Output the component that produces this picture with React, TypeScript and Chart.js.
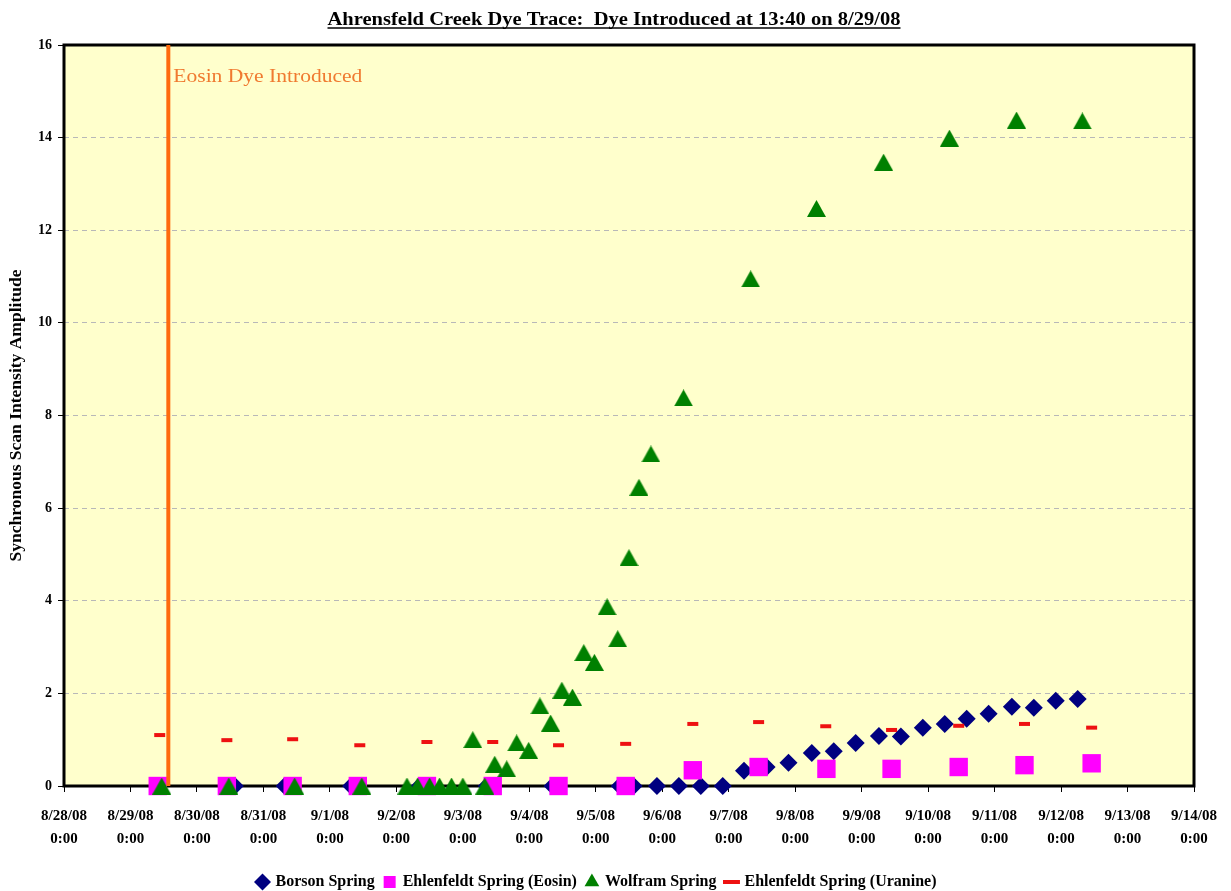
import React, { useEffect, useRef } from "react";
import { Chart, registerables } from "chart.js";

Chart.register(...registerables);

// x values are days since 8/28/08 0:00
const xTickDates = [
  "8/28/08", "8/29/08", "8/30/08", "8/31/08", "9/1/08", "9/2/08", "9/3/08", "9/4/08", "9/5/08",
  "9/6/08", "9/7/08", "9/8/08", "9/9/08", "9/10/08", "9/11/08", "9/12/08", "9/13/08", "9/14/08",
];
const xTickTime = "0:00";
const yTicks = [0, 2, 4, 6, 8, 10, 12, 14, 16];

const dyeIntroducedDay = 1 + (13 + 40 / 60) / 24; // 8/29/08 13:40
const dyeLabel = "Eosin Dye Introduced";
const chartTitle = "Ahrensfeld Creek Dye Trace:  Dye Introduced at 13:40 on 8/29/08";
const yTitle = "Synchronous Scan Intensity Amplitude";

const borsonDays = [2.57, 3.32, 4.32, 5.35, 6.36, 7.35, 8.36, 8.57, 8.92, 9.25, 9.58, 9.91, 10.23, 10.57, 10.9, 11.25, 11.58, 11.91, 12.26, 12.59, 12.92, 13.25, 13.58, 13.91, 14.26, 14.59, 14.92, 15.25];
const borsonValues = [0, 0, 0, 0, 0, 0, 0, 0, 0, 0, 0, 0, 0.33, 0.41, 0.5, 0.71, 0.75, 0.93, 1.08, 1.07, 1.26, 1.34, 1.45, 1.56, 1.71, 1.69, 1.84, 1.88];

const eosinDays = [1.41, 2.45, 3.44, 4.42, 5.46, 6.45, 7.44, 8.45, 9.46, 10.45, 11.47, 12.45, 13.46, 14.45, 15.46];
const eosinValues = [0, 0, 0, 0, 0, 0, 0, 0, 0.34, 0.41, 0.37, 0.37, 0.41, 0.45, 0.49];

const wolframDays = [1.47, 2.48, 3.47, 4.48, 5.16, 5.32, 5.5, 5.65, 5.83, 6.0, 6.15, 6.33, 6.48, 6.66, 6.81, 6.99, 7.16, 7.32, 7.49, 7.65, 7.82, 7.98, 8.17, 8.33, 8.5, 8.65, 8.83, 9.32, 10.33, 11.32, 12.33, 13.32, 14.33, 15.32];
const wolframValues = [0, 0, 0, 0, 0, 0, 0, 0, 0, 0, 1.0, 0, 0.47, 0.37, 0.93, 0.77, 1.73, 1.36, 2.07, 1.92, 2.88, 2.67, 3.87, 3.18, 4.93, 6.45, 7.17, 8.38, 10.95, 12.47, 13.47, 13.99, 14.38, 14.36];

const uranineDays = [1.44, 2.45, 3.44, 4.45, 5.46, 6.45, 7.44, 8.45, 9.46, 10.45, 11.46, 12.45, 13.46, 14.45, 15.46];
const uranineValues = [1.1, 0.99, 1.01, 0.88, 0.95, 0.95, 0.88, 0.91, 1.34, 1.38, 1.29, 1.21, 1.3, 1.34, 1.26];

const toPoints = (xs: number[], ys: number[]) => xs.map((x, i) => ({ x, y: ys[i] }));

const FONT = '"Liberation Serif", "Times New Roman", serif';

function makeTriangle(w: number, h: number, color: string) {
  const c = document.createElement("canvas");
  c.width = w;
  c.height = h;
  const g = c.getContext("2d")!;
  g.fillStyle = color;
  g.beginPath();
  g.moveTo(0, h);
  g.lineTo(w / 2, 0);
  g.lineTo(w, h);
  g.closePath();
  g.fill();
  return c;
}

function drawScaledText(ctx: CanvasRenderingContext2D, text: string, x: number, y: number, targetW: number, align: "left" | "center") {
  const w = ctx.measureText(text).width;
  const s = targetW / w;
  ctx.save();
  ctx.translate(x, y);
  ctx.scale(s, 1);
  ctx.textAlign = align;
  ctx.fillText(text, 0, 0);
  ctx.restore();
  return targetW;
}

const decorPlugin = {
  id: "decor",
  beforeDraw(chart: any) {
    const { ctx, chartArea: a } = chart;
    ctx.save();
    ctx.fillStyle = "#ffffff";
    ctx.fillRect(0, 0, chart.width, chart.height);
    ctx.fillStyle = "#FFFFCC";
    ctx.fillRect(a.left, a.top, a.right - a.left, a.bottom - a.top);
    // title
    ctx.font = `bold 18px ${FONT}`;
    ctx.fillStyle = "#000";
    ctx.textBaseline = "alphabetic";
    const cx = 614;
    const ty = 25;
    const w = drawScaledText(ctx, chartTitle, cx, ty, 573, "center");
    ctx.strokeStyle = "#000";
    ctx.lineWidth = 1.3;
    ctx.beginPath();
    ctx.moveTo(cx - w / 2, ty + 3);
    ctx.lineTo(cx + w / 2, ty + 3);
    ctx.stroke();
    ctx.restore();
  },
  beforeDatasetsDraw(chart: any) {
    const { ctx, chartArea: a } = chart;
    ctx.save();
    ctx.strokeStyle = "#000";
    ctx.lineWidth = 3;
    ctx.strokeRect(a.left, a.top, a.right - a.left, a.bottom - a.top);
    ctx.restore();
  },
  afterDatasetsDraw(chart: any) {
    const { ctx, chartArea: a, scales } = chart;
    const x = scales.x.getPixelForValue(dyeIntroducedDay);
    ctx.save();
    ctx.strokeStyle = "#FF6A0D";
    ctx.lineWidth = 4;
    ctx.beginPath();
    ctx.moveTo(x, a.top);
    ctx.lineTo(x, a.bottom);
    ctx.stroke();
    ctx.font = `19px ${FONT}`;
    ctx.fillStyle = "#F07A30";
    ctx.textBaseline = "middle";
    drawScaledText(ctx, dyeLabel, x + 5, 77, 189, "left");
    ctx.restore();
  },
};

export default function App() {
  const ref = useRef<HTMLCanvasElement>(null);
  useEffect(() => {
    document.body.style.margin = "0";
    const canvas = ref.current;
    if (!canvas) return;
    const triangle = makeTriangle(19, 17, "#008000");
    const chart = new Chart(canvas, {
      type: "scatter",
      data: {
        datasets: [
          {
            label: "Borson Spring",
            data: toPoints(borsonDays, borsonValues),
            pointStyle: "rectRot",
            radius: 9,
            backgroundColor: "#000080",
            borderColor: "#000080",
            borderWidth: 0,
            order: 4,
            clip: false,
          },
          {
            label: "Ehlenfeldt Spring (Eosin)",
            data: toPoints(eosinDays, eosinValues),
            pointStyle: "rect",
            radius: 13,
            backgroundColor: "#FF00FF",
            borderColor: "#FF00FF",
            borderWidth: 0,
            order: 3,
            clip: false,
          },
          {
            label: "Wolfram Spring",
            data: toPoints(wolframDays, wolframValues),
            pointStyle: triangle,
            radius: 10,
            backgroundColor: "#008000",
            borderColor: "#008000",
            borderWidth: 0,
            order: 2,
            clip: false,
          },
          {
            label: "Ehlenfeldt Spring (Uranine)",
            data: toPoints(uranineDays, uranineValues),
            pointStyle: "line",
            radius: 5.5,
            backgroundColor: "#EE1111",
            borderColor: "#EE1111",
            borderWidth: 4,
            order: 1,
            clip: false,
          },
        ] as any,
      },
      options: {
        animation: false,
        responsive: true,
        maintainAspectRatio: false,
        layout: { padding: { left: 0, right: 37, top: 45, bottom: -9 } },
        plugins: {
          legend: {
            position: "bottom",
            labels: {
              usePointStyle: true,
              boxWidth: 10,
              boxHeight: 12,
              padding: 10,
              color: "#000",
              font: { family: FONT, size: 16, weight: "bold" },
              sort: (a: any, b: any) => a.datasetIndex - b.datasetIndex,
              generateLabels: (ch: any) => {
                const items = Chart.defaults.plugins.legend.labels.generateLabels(ch);
                return items.map((it: any) => {
                  if (typeof it.pointStyle !== "string") it.pointStyle = "triangle";
                  if (it.pointStyle === "line") it.lineWidth = 4;
                  return it;
                });
              },
            },
          },
          tooltip: { enabled: false },
          title: { display: false },
        },
        scales: {
          x: {
            type: "linear",
            min: 0,
            max: 17,
            afterFit: (s: any) => {
              s.height = 78;
            },
            afterBuildTicks: (s: any) => {
              s.ticks = xTickDates.map((_, i) => ({ value: i }));
            },
            ticks: {
              autoSkip: false,
              maxRotation: 0,
              color: "#000",
              padding: 12,
              font: { family: FONT, size: 15, weight: "bold", lineHeight: 1.55 },
              callback: (v: any) => [xTickDates[Math.round(v)], xTickTime],
            },
            grid: { drawOnChartArea: false, tickLength: 6, tickColor: "#000", tickWidth: 1 },
            border: { display: false },
          },
          y: {
            min: 0,
            max: 16,
            afterFit: (s: any) => {
              s.width = 64;
            },
            afterBuildTicks: (s: any) => {
              s.ticks = yTicks.map((v) => ({ value: v }));
            },
            ticks: {
              color: "#000",
              padding: 6,
              font: { family: FONT, size: 14, weight: "bold" },
            },
            grid: {
              color: (c: any) => (c.tick && (c.tick.value === 0 || c.tick.value === 16) ? "rgba(0,0,0,0)" : "#B8B8B8"),
              lineWidth: 1,
              tickLength: 6,
              tickColor: "#000",
            },
            border: { display: false, dash: [5, 4] },
            title: {
              display: true,
              text: yTitle,
              color: "#000",
              padding: { top: 6, bottom: 0 },
              font: { family: FONT, size: 17.5, weight: "bold" },
            },
          },
        },
      } as any,
      plugins: [decorPlugin],
    });
    return () => chart.destroy();
  }, []);
  return (
    <div style={{ width: 1231, height: 891, position: "relative" }}>
      <canvas ref={ref} />
    </div>
  );
}
